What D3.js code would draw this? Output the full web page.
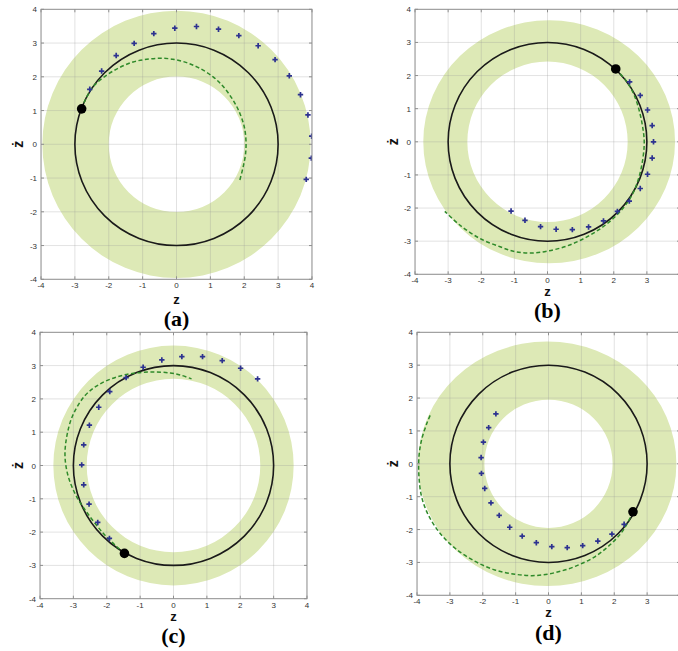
<!DOCTYPE html>
<html>
<head>
<meta charset="utf-8">
<script src="https://cdn.jsdelivr.net/npm/d3@7"></script>
<style>
  body { margin: 0; background: #fff; }
  svg { display: block; }
</style>
</head>
<body>
<script>
// ---- data ----
const ticks = [-4, -3, -2, -1, 0, 1, 2, 3, 4];
const panelNames = ["(a)", "(b)", "(c)", "(d)"];
const xLabel = "z";
const yLabel = "ż";
const refRadius = 3;

// feasible band: inner circle radius, outer boundary radii and centre offset
const bandInner = [2.0, 2.42, 2.6, 1.95];
const bandOuterX = [3.96, 3.8, 3.6, 3.93];
const bandOuterY = [3.96, 3.67, 3.6, 3.72];
const bandCenterX = [0, 0.05, 0, -0.04];

// current state on the reference circle
const statePos = [[-2.8, 1.05], [2.06, 2.2], [-1.47, -2.64], [2.57, -1.46]];

// predicted states (+ markers)
const plusA = [[-2.56,1.63],[-2.21,2.17],[-1.78,2.63],[-1.25,2.99],[-0.67,3.28],[-0.05,3.44],[0.59,3.49],[1.24,3.41],[1.84,3.22],[2.41,2.92],[2.91,2.51],[3.33,2.03],[3.66,1.47],[3.88,0.87],[3.99,0.24],[3.98,-0.41],[3.83,-1.04]];
const plusB = [[2.48,1.81],[2.80,1.40],[3.02,0.96],[3.16,0.49],[3.20,0.0],[3.16,-0.49],[3.02,-0.98],[2.80,-1.41],[2.47,-1.79],[2.11,-2.10],[1.69,-2.39],[1.24,-2.57],[0.75,-2.65],[0.26,-2.64],[-0.21,-2.56],[-0.68,-2.37],[-1.10,-2.09]];
const plusC = [[-1.92,-2.19],[-2.27,-1.71],[-2.53,-1.16],[-2.69,-0.58],[-2.75,0.02],[-2.69,0.62],[-2.52,1.21],[-2.24,1.75],[-1.91,2.22],[-1.42,2.64],[-0.91,2.95],[-0.35,3.17],[0.25,3.27],[0.87,3.27],[1.46,3.15],[2.01,2.92],[2.52,2.60]];
const plusD = [[2.30,-1.84],[1.93,-2.14],[1.50,-2.35],[1.04,-2.49],[0.57,-2.55],[0.10,-2.52],[-0.37,-2.40],[-0.80,-2.20],[-1.18,-1.93],[-1.50,-1.57],[-1.75,-1.19],[-1.94,-0.75],[-2.04,-0.29],[-2.05,0.19],[-1.98,0.66],[-1.82,1.10],[-1.60,1.52]];

// closed-loop trajectories (dashed)
const pathA = [[-2.8,1.05],[-2.7,1.3],[-2.46,1.71],[-2.06,2.05],[-1.67,2.28],[-1.28,2.44],[-0.88,2.52],[-0.49,2.55],[-0.10,2.52],[0.30,2.42],[0.69,2.25],[1.08,2.0],[1.38,1.71],[1.67,1.31],[1.87,0.92],[2.0,0.52],[2.05,0.13],[2.04,-0.27],[1.97,-0.66],[1.87,-1.06]];
const pathB = [[2.06,2.2],[2.40,1.81],[2.62,1.40],[2.78,0.9],[2.88,0.40],[2.92,0.0],[2.88,-0.50],[2.75,-1.11],[2.55,-1.61],[2.19,-2.11],[1.74,-2.52],[1.19,-2.87],[0.60,-3.14],[0.0,-3.30],[-0.5,-3.36],[-1.0,-3.31],[-1.43,-3.17],[-2.04,-2.92],[-2.64,-2.52],[-3.10,-2.10]];
const pathC = [[-1.47,-2.64],[-1.70,-2.44],[-2.10,-2.04],[-2.50,-1.54],[-2.90,-0.94],[-3.15,-0.34],[-3.25,0.26],[-3.20,0.86],[-3.02,1.50],[-2.65,2.10],[-2.20,2.45],[-1.70,2.66],[-1.20,2.77],[-0.65,2.81],[-0.10,2.78],[0.20,2.72],[0.54,2.60]];
const pathD = [[2.57,-1.46],[2.28,-2.01],[1.93,-2.41],[1.42,-2.82],[0.81,-3.12],[0.20,-3.31],[-0.41,-3.40],[-1.02,-3.36],[-1.63,-3.23],[-2.23,-2.97],[-2.84,-2.57],[-3.30,-2.11],[-3.66,-1.55],[-3.86,-1.0],[-3.94,-0.39],[-3.94,0.22],[-3.86,0.73],[-3.70,1.23],[-3.58,1.52]];

const plusSets = [plusA, plusB, plusC, plusD];
const pathSets = [pathA, pathB, pathC, pathD];

// ---- layout ----
const W = 678, H = 651;
const layout = [
  { x0: 41,  y0: 9.3,   w: 271, h: 270,   xlabY: 304, nameY: 326, ylabX: 18 },
  { x0: 415, y0: 9.3,   w: 265, h: 265,   xlabY: 296, nameY: 318, ylabX: 393 },
  { x0: 40,  y0: 332.3, w: 267, h: 266.4, xlabY: 621, nameY: 643, ylabX: 18 },
  { x0: 417, y0: 332.3, w: 263, h: 263,   xlabY: 617, nameY: 640, ylabX: 393 }
];

const svg = d3.select("body").append("svg")
  .attr("width", W).attr("height", H)
  .attr("viewBox", `0 0 ${W} ${H}`);

svg.append("rect").attr("width", W).attr("height", H).attr("fill", "#fff");

const defs = svg.append("defs");

layout.forEach((L, i) => {
  const x = d3.scaleLinear().domain([-4, 4]).range([L.x0, L.x0 + L.w]);
  const y = d3.scaleLinear().domain([-4, 4]).range([L.y0 + L.h, L.y0]);
  const g = svg.append("g");

  defs.append("clipPath").attr("id", "clip" + i)
    .append("rect").attr("x", L.x0).attr("y", L.y0).attr("width", L.w).attr("height", L.h);

  const plot = g.append("g").attr("clip-path", `url(#clip${i})`);

  // band (outer boundary minus inner circle)
  const cx = x(bandCenterX[i]), cy = y(0);
  const rxo = x(bandOuterX[i]) - x(0), ryo = y(0) - y(bandOuterY[i]);
  const ri = x(bandInner[i]) - x(0);
  const ring = `M${cx + rxo},${cy} A${rxo},${ryo} 0 1 0 ${cx - rxo},${cy} A${rxo},${ryo} 0 1 0 ${cx + rxo},${cy} Z ` +
               `M${x(0) + ri},${cy} A${ri},${ri} 0 1 0 ${x(0) - ri},${cy} A${ri},${ri} 0 1 0 ${x(0) + ri},${cy} Z`;
  plot.append("path").attr("d", ring).attr("fill", "#dde9b6").attr("fill-rule", "evenodd");

  // grid
  const grid = plot.append("g").attr("stroke", "rgba(150,150,150,0.28)").attr("stroke-width", 1);
  ticks.forEach(t => {
    grid.append("line").attr("x1", x(t)).attr("x2", x(t)).attr("y1", L.y0).attr("y2", L.y0 + L.h);
    grid.append("line").attr("y1", y(t)).attr("y2", y(t)).attr("x1", L.x0).attr("x2", L.x0 + L.w);
  });

  // reference circle
  plot.append("ellipse")
    .attr("cx", x(0)).attr("cy", y(0))
    .attr("rx", x(refRadius) - x(0)).attr("ry", y(0) - y(refRadius))
    .attr("fill", "none").attr("stroke", "#1a1a1a").attr("stroke-width", 1.6);

  // dashed trajectory
  const line = d3.line().x(d => x(d[0])).y(d => y(d[1])).curve(d3.curveCatmullRom.alpha(0.5));
  plot.append("path").attr("d", line(pathSets[i]))
    .attr("fill", "none").attr("stroke", "#2f8a2a").attr("stroke-width", 1.5)
    .attr("stroke-dasharray", "4,2.5");

  // + markers
  const s = 2.7;
  plot.append("g").selectAll("path").data(plusSets[i]).join("path")
    .attr("d", d => `M${x(d[0]) - s},${y(d[1])}H${x(d[0]) + s}M${x(d[0])},${y(d[1]) - s}V${y(d[1]) + s}`)
    .attr("stroke", "#2d3290").attr("stroke-width", 1.7).attr("fill", "none");

  // current state
  plot.append("circle").attr("cx", x(statePos[i][0])).attr("cy", y(statePos[i][1]))
    .attr("r", 4.8).attr("fill", "#000");

  // box + tick marks
  g.append("rect").attr("x", L.x0).attr("y", L.y0).attr("width", L.w).attr("height", L.h)
    .attr("fill", "none").attr("stroke", "#8f8f8f").attr("stroke-width", 1);
  const tk = g.append("g").attr("stroke", "#8f8f8f").attr("stroke-width", 1);
  ticks.forEach(t => {
    tk.append("line").attr("x1", x(t)).attr("x2", x(t)).attr("y1", L.y0 + L.h).attr("y2", L.y0 + L.h - 3);
    tk.append("line").attr("x1", x(t)).attr("x2", x(t)).attr("y1", L.y0).attr("y2", L.y0 + 3);
    tk.append("line").attr("y1", y(t)).attr("y2", y(t)).attr("x1", L.x0).attr("x2", L.x0 + 3);
    tk.append("line").attr("y1", y(t)).attr("y2", y(t)).attr("x1", L.x0 + L.w).attr("x2", L.x0 + L.w - 3);
  });

  // tick labels (only those that fall inside the page)
  const tl = g.append("g").attr("font-family", "'Liberation Sans', Arial, sans-serif")
    .attr("font-size", 8).attr("fill", "#333");
  ticks.filter(t => x(t) < W - 4).forEach(t => {
    tl.append("text").attr("x", x(t)).attr("y", L.y0 + L.h + 9).attr("text-anchor", "middle").text(t);
  });
  ticks.forEach(t => {
    tl.append("text").attr("x", L.x0 - 4).attr("y", y(t) + 3).attr("text-anchor", "end").text(t);
  });

  // axis labels
  const midX = L.x0 + L.w / 2, midY = L.y0 + L.h / 2;
  g.append("text").attr("x", midX).attr("y", L.xlabY).attr("text-anchor", "middle")
    .attr("font-family", "'Liberation Sans', Arial, sans-serif").attr("font-weight", "bold")
    .attr("font-size", 13).attr("fill", "#111").text(xLabel);
  g.append("text").attr("transform", `translate(${L.ylabX + 5},${midY}) rotate(-90)`)
    .attr("text-anchor", "middle")
    .attr("font-family", "'Liberation Sans', Arial, sans-serif").attr("font-weight", "bold")
    .attr("font-size", 14).attr("fill", "#111").text(yLabel);

  // panel name
  g.append("text").attr("x", midX).attr("y", L.nameY).attr("text-anchor", "middle")
    .attr("font-family", "'Liberation Serif', 'Times New Roman', serif").attr("font-weight", "bold")
    .attr("font-size", 22).attr("fill", "#000").text(panelNames[i]);
});
</script>
</body>
</html>
